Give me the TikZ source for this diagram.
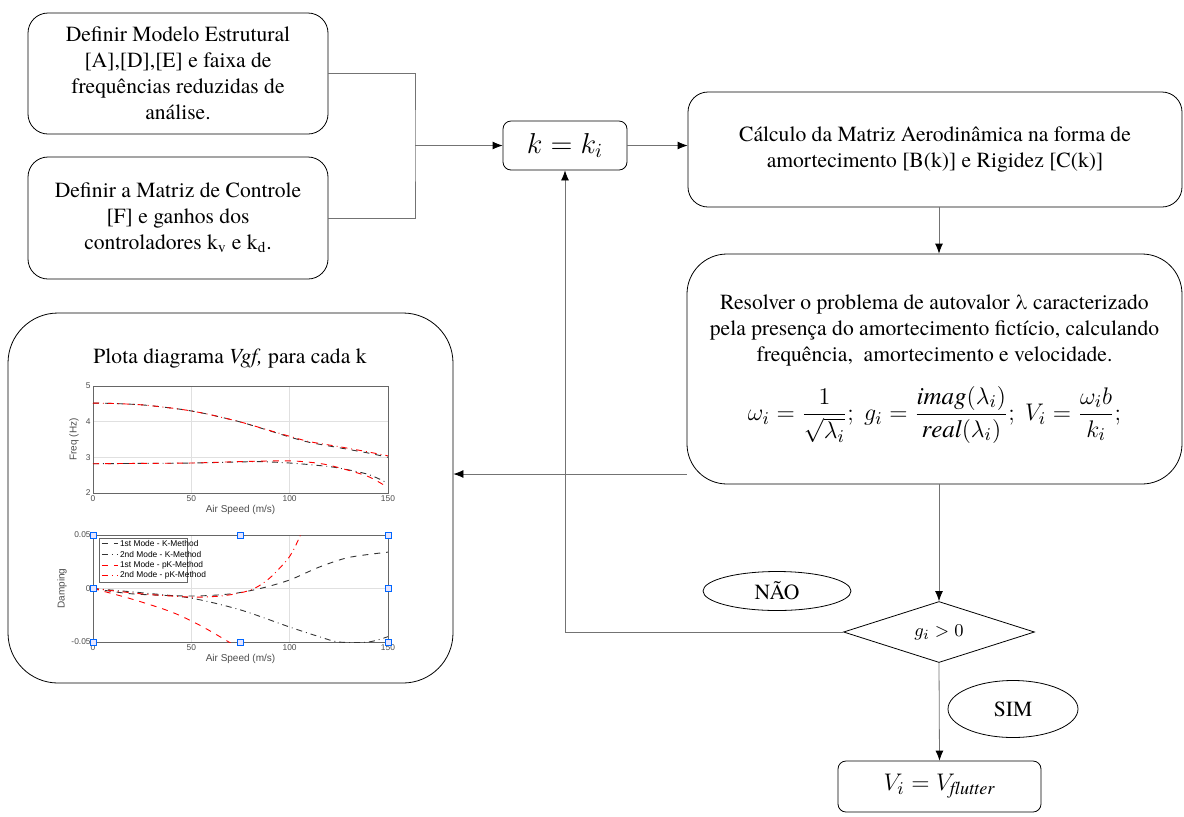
\documentclass[tikz,border=0pt]{standalone}
\usepackage{amsmath}
\usepackage{fontspec}
\setmainfont{texgyretermes}[Extension=.otf, UprightFont=*-regular, ItalicFont=*-italic,
	BoldFont=*-bold, BoldItalicFont=*-bolditalic]
\newfontfamily\plotfont{Liberation Sans}
\usetikzlibrary{shapes.geometric,arrows.meta}

\tikzset{
	caixa/.style={draw, rounded corners=10pt, align=center, inner sep=2pt,
		font=\fontsize{10.8}{13}\selectfont},
	rotulo/.style={draw, ellipse, inner sep=0pt, font=\fontsize{10.8}{13}\selectfont},
	linha/.style={draw=black!55, line width=0.4pt},
	seta/.style={linha, -{Latex[length=5pt,width=4pt,black]}},
	eixo/.style={draw=black!60, line width=0.3pt},
	grade/.style={draw=black!12, line width=0.3pt},
	curva/.style={line width=0.45pt, smooth},
	kmod1/.style={curva, black!80, dashed},
	kmod2/.style={curva, black!80, dash dot},
	pkmod1/.style={curva, red, dashed},
	pkmod2/.style={curva, red, dash dot},
	alca/.style={draw=blue!60!cyan, fill=blue!10, line width=0.3pt},
	tick/.style={font=\plotfont\fontsize{4.2}{5}\selectfont, text=black!70, inner sep=1pt},
	rotuloeixo/.style={font=\plotfont\fontsize{5}{6}\selectfont, text=black!70, inner sep=1pt}
}

\begin{document}
\begin{tikzpicture}[x=0.5pt, y=-0.5pt]
	\useasboundingbox (0,0) rectangle (1184,816);

	\node[caixa, minimum width=150pt, minimum height=60.5pt] (modelo) at (178,73.5)
		{Definir Modelo Estrutural\\ {[A],[D],[E]} e faixa de\\ frequências reduzidas de\\ análise.};
	\node[caixa, minimum width=150pt, minimum height=61pt] (controle) at (178,218)
		{Definir a Matriz de Controle\\ {[F]} e ganhos dos\\ controladores k\textsubscript{v} e k\textsubscript{d}.};
	\node[caixa, rounded corners=4pt, minimum width=62pt, minimum height=24.5pt,
		font=\fontsize{14}{15}\selectfont] (kk) at (565,145.5) {$k = k_i$};
	\node[caixa, minimum width=247pt, minimum height=57.5pt] (calc) at (935,149.5)
		{Cálculo da Matriz Aerodinâmica na forma de\\ amortecimento [B(k)] e Rigidez [C(k)]};
	\node[caixa, rounded corners=20pt, minimum width=247.5pt, minimum height=115pt] (resolve) at (934.5,369)
		{Resolver o problema de autovalor λ caracterizado\\ pela presença do amortecimento fictício, calculando\\
		frequência,\ \ amortecimento e velocidade.\\[9pt]
		{\fontsize{12.5}{14}\selectfont $\omega_i = \dfrac{1}{\sqrt{\lambda_i}};\ g_i = \dfrac{\mathit{imag}(\lambda_i)}{\mathit{real}(\lambda_i)};\ V_i = \dfrac{\omega_i b}{k_i};$}};
	\node[draw, diamond, aspect=3, minimum width=95.5pt, minimum height=30.5pt, inner sep=0pt,
		font=\fontsize{9.5}{10}\selectfont] (teste) at (939,632) {$g_i > 0$};
	\node[rotulo, minimum width=74pt, minimum height=19.5pt] (nao) at (777,591) {NÃO};
	\node[rotulo, minimum width=65pt, minimum height=28.5pt] (sim) at (1013,709) {SIM};
	\node[caixa, rounded corners=4pt, minimum width=101.5pt, minimum height=25.5pt,
		font=\fontsize{13}{15}\selectfont] (flutter) at (939.5,786.5) {$V_i = V_{\mathit{flutter}}$};
	\node[caixa, rounded corners=25pt, minimum width=222.5pt, minimum height=185pt] (grafico) at (230.5,498) {};
	\node[font=\fontsize{10.8}{13}\selectfont] (titulo) at (230,358) {Plota diagrama \textit{Vgf,} para cada k};

	\coordinate (junta) at (415,145.5);
	\draw[linha] (modelo.east) -| (junta) |- (controle.east);
	\draw[seta] (junta) -- (kk.west);
	\draw[seta] (kk.east) -- (kk.east -| calc.west);
	\draw[seta] (calc.south -| teste) -- (resolve.north -| teste);
	\draw[seta] (resolve.south -| teste) -- (teste.north);
	\draw[seta] (teste.west) -| (kk.south);
	\draw[seta] (resolve.west |- 0,474) -- (grafico.east |- 0,474);
	\draw[seta] (teste.south) -- (flutter.north);

	% frequencia
	\begin{scope}[shift={(93,564.3)}, x=0.9833pt, y=17.833pt]
		\foreach \v in {50,100} \draw[grade] (\v,2) -- (\v,5);
		\foreach \f in {3,4} \draw[grade] (0,\f) -- (150,\f);
		\draw[eixo] (0,2) rectangle (150,5);
		\foreach \v in {0,50,100,150} \node[tick, below] at (\v,2) {\v};
		\foreach \f in {2,3,4,5} \node[tick, left] at (0,\f) {\f};
		\node[rotuloeixo, below=5pt] at (75,2) {Air Speed (m/s)};
		\node[rotuloeixo, rotate=90, above=6pt] at (0,3.5) {Freq (Hz)};
		\draw[kmod1] plot coordinates {(0,4.52) (10,4.51) (25,4.47) (40,4.38) (50,4.30) (60,4.19)
			(75,3.99) (90,3.74) (100,3.57) (110,3.42) (125,3.27) (140,3.12) (150,3.0)};
		\draw[pkmod2] plot coordinates {(0,4.52) (10,4.51) (25,4.47) (40,4.38) (50,4.30) (60,4.19)
			(75,3.99) (90,3.75) (100,3.59) (110,3.44) (125,3.30) (140,3.15) (150,3.04)};
		\draw[kmod2] plot coordinates {(0,2.82) (25,2.83) (50,2.84) (75,2.87) (85,2.88)
			(100,2.84) (115,2.77) (125,2.70) (140,2.52) (150,2.27)};
		\draw[pkmod1] plot coordinates {(0,2.82) (25,2.83) (50,2.84) (75,2.88) (100,2.9)
			(115,2.83) (125,2.71) (140,2.46) (150,2.15)};
	\end{scope}

	% amortecimento (x100)
	\begin{scope}[shift={(93,588.5)}, x=0.9833pt, y=5.35pt]
		\foreach \v in {50,100} \draw[grade] (\v,-5) -- (\v,5);
		\draw[grade] (0,0) -- (150,0);
		\draw[eixo] (0,-5) rectangle (150,5);
		\foreach \v in {0,50,100,150} \node[tick, below] at (\v,-5) {\v};
		\node[tick, left] at (0,5) {0.05};
		\node[tick, left] at (0,0) {0};
		\node[tick, left] at (0,-5) {-0.05};
		\node[rotuloeixo, below=5pt] at (75,-5) {Air Speed (m/s)};
		\node[rotuloeixo, rotate=90, above=12pt] at (0,0) {Damping};
		\begin{scope}
			\clip (0,-5) rectangle (150,5);
			\draw[kmod1] plot coordinates {(0,0) (20,-0.5) (50,-0.7) (70,-0.5) (85,0)
				(100,0.8) (115,2.0) (130,2.9) (150,3.4)};
			\draw[kmod2] plot coordinates {(0,0) (25,-0.4) (50,-0.9) (75,-2.0) (100,-3.6)
				(115,-4.5) (125,-5.0) (140,-5.0) (150,-4.5)};
			\draw[pkmod1] plot coordinates {(0,0) (20,-1.0) (40,-2.2) (55,-3.5) (70,-5.1)};
			\draw[pkmod2] plot coordinates {(0,0) (25,-0.5) (50,-0.8) (65,-0.7) (75,-0.4)
				(82,0) (90,1.0) (100,3.0) (106,5.2)};
		\end{scope}
		% legenda
		\draw[eixo, fill=white] (3,4.7) rectangle (48,0.6);
		\draw[kmod1] (4.5,4.2) -- (12.5,4.2) node[tick, right, text=black] {1st Mode - K-Method};
		\draw[kmod2] (4.5,3.2) -- (12.5,3.2) node[tick, right, text=black] {2nd Mode - K-Method};
		\draw[pkmod1] (4.5,2.2) -- (12.5,2.2) node[tick, right, text=black] {1st Mode - pK-Method};
		\draw[pkmod2] (4.5,1.2) -- (12.5,1.2) node[tick, right, text=black] {2nd Mode - pK-Method};
		\foreach \p in {(0,5),(75,5),(150,5),(0,0),(150,0),(0,-5),(75,-5),(150,-5)}
			\draw[alca] \p ++(-1.5,-0.28) rectangle ++(3,0.56);
	\end{scope}
\end{tikzpicture}
\end{document}
